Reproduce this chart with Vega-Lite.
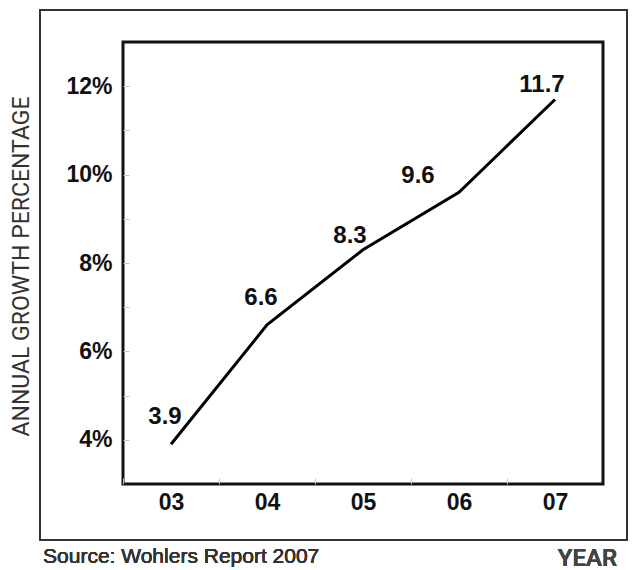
{
  "$schema": "https://vega.github.io/schema/vega-lite/v6.json",
  "autosize": "none",
  "width": 480,
  "height": 442,
  "padding": {"left": 123, "top": 42, "right": 34, "bottom": 86},
  "background": "white",
  "config": {
    "view": {"stroke": "#111", "strokeWidth": 3},
    "axis": {"grid": false, "domain": false}
  },
  "data": {"values": [
    {"year": 3, "growth": 3.9, "label": "3.9", "grp": "a"},
    {"year": 4, "growth": 6.6, "label": "6.6", "grp": "a"},
    {"year": 5, "growth": 8.3, "label": "8.3", "grp": "b"},
    {"year": 6, "growth": 9.6, "label": "9.6", "grp": "c"},
    {"year": 7, "growth": 11.7, "label": "11.7", "grp": "b"}
  ]},
  "encoding": {
    "x": {"field": "year", "type": "quantitative",
      "scale": {"domain": [2.5, 7.5], "nice": false, "zero": false},
      "axis": {"values": [3, 4, 5, 6, 7], "labelExpr": "'0' + datum.value",
        "tickOffset": -48, "labelOffset": 48, "tickSize": -6, "tickColor": "#c4c4c4", "tickWidth": 1,
        "labelFont": "Liberation Sans", "labelFontSize": 23, "labelFontWeight": "bold", "labelColor": "#111",
        "labelPadding": 13, "title": null}},
    "y": {"field": "growth", "type": "quantitative",
      "scale": {"domain": [3, 13], "nice": false, "zero": false},
      "axis": {"values": [4, 5, 6, 7, 8, 9, 10, 11, 12],
        "labelExpr": "datum.value % 2 == 0 ? datum.value + '%' : ''",
        "tickSize": -6, "tickColor": "#c4c4c4", "tickWidth": 1,
        "labelFont": "Liberation Sans", "labelFontSize": 23, "labelFontWeight": "bold", "labelColor": "#111",
        "labelPadding": 17,
        "title": "ANNUAL GROWTH PERCENTAGE", "titleFont": "Roboto", "titleFontWeight": "normal",
        "titleFontSize": 23, "titleColor": "#333", "titleX": -102, "titleY": 224, "titleAngle": -90,
        "titleAlign": "center", "titleBaseline": "middle"}}
  },
  "layer": [
    {"mark": {"type": "rect", "fill": null, "stroke": "#333", "strokeWidth": 1.5, "clip": false},
     "encoding": {"x": {"datum": 1.635}, "x2": {"datum": 7.75}, "y": {"datum": 1.733}, "y2": {"datum": 13.724}}},
    {"mark": {"type": "line", "color": "#000", "strokeWidth": 3}},
    {"transform": [{"filter": "datum.grp == 'a'"}],
     "mark": {"type": "text", "font": "Liberation Sans", "fontSize": 24, "fontWeight": "bold", "color": "#111", "dx": -6, "dy": -27},
     "encoding": {"text": {"field": "label"}}},
    {"transform": [{"filter": "datum.grp == 'b'"}],
     "mark": {"type": "text", "font": "Liberation Sans", "fontSize": 24, "fontWeight": "bold", "color": "#111", "dx": -13, "dy": -14},
     "encoding": {"text": {"field": "label"}}},
    {"transform": [{"filter": "datum.grp == 'c'"}],
     "mark": {"type": "text", "font": "Liberation Sans", "fontSize": 24, "fontWeight": "bold", "color": "#111", "dx": -41, "dy": -16},
     "encoding": {"text": {"field": "label"}}},
    {"mark": {"type": "text", "font": "Liberation Sans", "fontSize": 21, "fontWeight": "normal", "color": "#333", "align": "left", "baseline": "alphabetic", "clip": false},
     "encoding": {"x": {"datum": 1.667}, "y": {"datum": 1.213}, "text": {"value": "Source: Wohlers Report 2007"}}},
    {"mark": {"type": "text", "font": "Roboto", "fontSize": 24, "fontWeight": 500, "color": "#444", "align": "right", "baseline": "alphabetic", "clip": false},
     "encoding": {"x": {"datum": 7.646}, "y": {"datum": 1.14}, "text": {"value": "YEAR"}}}
  ]
}
